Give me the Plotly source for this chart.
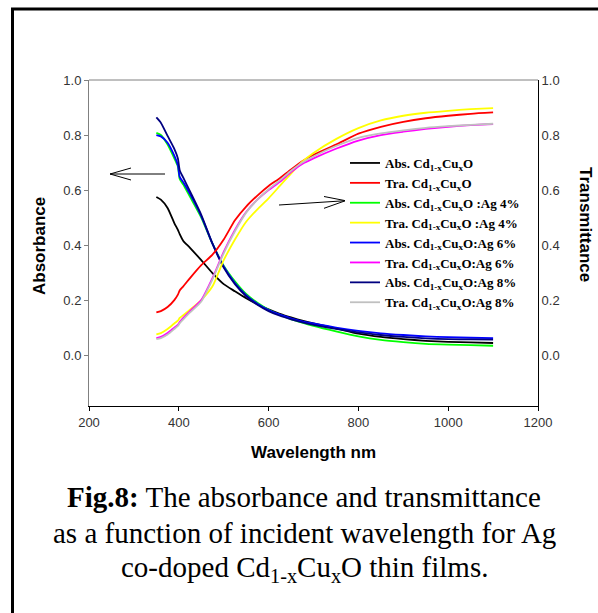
import plotly.graph_objects as go

wavelength = [350, 360, 375, 390, 398, 402, 410, 425, 450, 475, 500, 525, 550, 575,
              600, 625, 650, 675, 700, 750, 800, 850, 900, 950, 1000, 1050, 1100]

abs_0 = [0.575, 0.565, 0.535, 0.48, 0.455, 0.44, 0.415, 0.39, 0.345, 0.298, 0.258, 0.232, 0.207, 0.185,
         0.166, 0.15, 0.137, 0.125, 0.115, 0.097, 0.078, 0.066, 0.058, 0.052, 0.048, 0.046, 0.044]
tra_0 = [0.155, 0.16, 0.175, 0.2, 0.22, 0.235, 0.25, 0.28, 0.327, 0.365, 0.42, 0.49, 0.54, 0.58,
         0.615, 0.643, 0.675, 0.705, 0.728, 0.765, 0.805, 0.83, 0.848, 0.861, 0.87, 0.877, 0.882]
abs_4 = [0.808, 0.8, 0.765, 0.715, 0.685, 0.64, 0.62, 0.575, 0.5, 0.405, 0.325, 0.268, 0.222, 0.19,
         0.165, 0.146, 0.131, 0.118, 0.106, 0.086, 0.068, 0.055, 0.047, 0.041, 0.038, 0.036, 0.034]
tra_4 = [0.075, 0.08, 0.095, 0.115, 0.125, 0.135, 0.145, 0.165, 0.2, 0.25, 0.345, 0.42, 0.485, 0.53,
         0.57, 0.615, 0.66, 0.703, 0.735, 0.785, 0.825, 0.853, 0.87, 0.881, 0.888, 0.894, 0.898]
abs_6 = [0.8, 0.795, 0.772, 0.725, 0.69, 0.648, 0.628, 0.585, 0.505, 0.405, 0.322, 0.262, 0.218, 0.187,
         0.164, 0.147, 0.134, 0.123, 0.115, 0.1, 0.088, 0.079, 0.073, 0.068, 0.065, 0.063, 0.062]
tra_6 = [0.062, 0.066, 0.08, 0.1, 0.11, 0.12, 0.135, 0.16, 0.2, 0.28, 0.375, 0.455, 0.52, 0.565,
         0.6, 0.63, 0.665, 0.695, 0.715, 0.75, 0.78, 0.8, 0.812, 0.822, 0.83, 0.836, 0.84]
abs_8 = [0.864, 0.845, 0.797, 0.75, 0.715, 0.672, 0.645, 0.595, 0.51, 0.405, 0.318, 0.258, 0.214, 0.183,
         0.16, 0.143, 0.13, 0.119, 0.11, 0.095, 0.083, 0.073, 0.066, 0.061, 0.058, 0.057, 0.056]
tra_8 = [0.058, 0.062, 0.075, 0.095, 0.106, 0.116, 0.13, 0.155, 0.195, 0.275, 0.37, 0.45, 0.518, 0.565,
         0.603, 0.635, 0.67, 0.7, 0.722, 0.76, 0.79, 0.806, 0.817, 0.826, 0.832, 0.837, 0.841]

F = "Cd<sub>1-x</sub>Cu<sub>x</sub>O"
series = [
    ("Abs. " + F, abs_0, "#000000", "y"),
    ("Tra. " + F, tra_0, "#ff0000", "y2"),
    ("Abs. " + F + " :Ag 4%", abs_4, "#00ff00", "y"),
    ("Tra. " + F + " :Ag 4%", tra_4, "#ffff00", "y2"),
    ("Abs. " + F + ":Ag 6%", abs_6, "#0000ff", "y"),
    ("Tra. " + F + ":Ag 6%", tra_6, "#ff00ff", "y2"),
    ("Abs. " + F + ":Ag 8%", abs_8, "#000080", "y"),
    ("Tra. " + F + ":Ag 8%", tra_8, "#c0c0c0", "y2"),
]

x_ticks = [200, 400, 600, 800, 1000, 1200]
y_ticks = [0.0, 0.2, 0.4, 0.6, 0.8, 1.0]
y_range = [-0.185, 1.0]

fig = go.Figure()
for name, vals, col, ax in series:
    fig.add_trace(go.Scatter(x=wavelength, y=vals, name="<b>" + name + "</b>", mode="lines",
                             line=dict(color=col, width=1.8, shape="spline", smoothing=0.6),
                             yaxis=ax))

L, R, T, B = 89, 60, 80, 207
W, H = 598, 613
pw, ph = W - L - R, H - T - B

def px(x):
    return (x - L) / pw

def py(y):
    return (H - B - y) / ph

tickfont = dict(family="Liberation Sans, Arial", size=13, color="#333333")
fig.update_layout(
    width=W, height=H, margin=dict(l=L, r=R, t=T, b=B),
    paper_bgcolor="white", plot_bgcolor="white",
    showlegend=True,
    legend=dict(x=px(345), y=py(148), xanchor="left", yanchor="top", bgcolor="white",
                font=dict(family="Liberation Serif, Times New Roman", size=13, color="#000000"),
                itemwidth=30, tracegroupgap=0),
    xaxis=dict(range=[200, 1200], tickvals=x_ticks, ticktext=[str(v) for v in x_ticks],
               showgrid=False, zeroline=False, showline=True, linecolor="#000000", linewidth=1,
               ticks="outside", ticklen=4, tickcolor="#000000", tickfont=tickfont),
    yaxis=dict(range=y_range, tickvals=y_ticks, ticktext=["%.1f" % v for v in y_ticks],
               showgrid=False, zeroline=False, showline=True, linecolor="#808080", linewidth=1,
               ticks="outside", ticklen=4, tickcolor="#808080", tickfont=tickfont),
    yaxis2=dict(range=y_range, tickvals=y_ticks, ticktext=["%.1f" % v for v in y_ticks],
                overlaying="y", side="right", showgrid=False, zeroline=False,
                showline=True, linecolor="#000000", linewidth=1, ticks="", ticklen=0,
                tickfont=tickfont),
)

shapes = []
# top frame line of plot
shapes.append(dict(type="line", xref="paper", yref="paper", x0=0, x1=1, y0=1, y1=1,
                   line=dict(color="#808080", width=1)))
# outer figure border (left + top)
shapes.append(dict(type="line", xref="paper", yref="paper", x0=px(12.5), x1=px(12.5), y0=py(8), y1=py(640),
                   line=dict(color="#000000", width=3)))
shapes.append(dict(type="line", xref="paper", yref="paper", x0=px(11), x1=px(640), y0=py(9), y1=py(9),
                   line=dict(color="#000000", width=3)))
# arrows
arrow_segments = [
    ((165, 174), (110, 174)), ((110, 174), (131, 168)), ((110, 174), (131, 180)),
    ((279, 205), (345.5, 200.7)), ((345.5, 200.7), (324, 196.5)), ((345.5, 200.7), (324, 208.3)),
]
for (x0, y0), (x1, y1) in arrow_segments:
    shapes.append(dict(type="line", xref="paper", yref="paper", x0=px(x0), y0=py(y0), x1=px(x1), y1=py(y1),
                       line=dict(color="#000000", width=1)))
fig.update_layout(shapes=shapes)

titlefont = dict(family="Liberation Sans, Arial", size=17, color="#000000")
ann = []
ann.append(dict(text="<b>Absorbance</b>", x=px(40), y=py(246), xref="paper", yref="paper",
                showarrow=False, textangle=-90, font=titlefont, xanchor="center", yanchor="middle"))
ann.append(dict(text="<b>Transmittance</b>", x=px(586), y=py(224), xref="paper", yref="paper",
                showarrow=False, textangle=90, font=titlefont, xanchor="center", yanchor="middle"))
ann.append(dict(text="<b>Wavelength nm</b>", x=px(313), y=py(452), xref="paper", yref="paper",
                showarrow=False, font=titlefont, xanchor="center", yanchor="middle"))
capfont = dict(family="Liberation Serif, Times New Roman", size=29, color="#000000")
caps = [
    ("<b>Fig.8:</b> The absorbance and transmittance", 497),
    ("as a function of incident wavelength for Ag", 533),
    ("co-doped Cd<sub>1-x</sub>Cu<sub>x</sub>O thin films.", 569),
]
for t, yy in caps:
    ann.append(dict(text=t, x=px(304), y=py(yy), xref="paper", yref="paper", showarrow=False,
                    font=capfont, xanchor="center", yanchor="middle"))
fig.update_layout(annotations=ann)

fig.write_html("out.html")
